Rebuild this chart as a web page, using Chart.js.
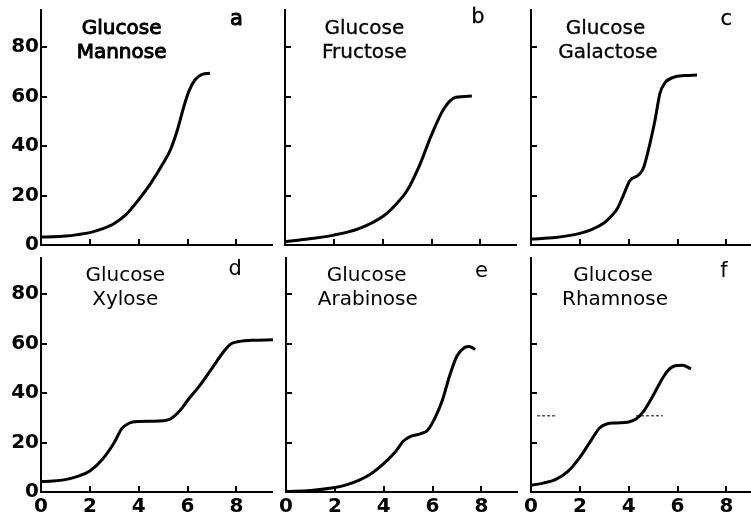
<!DOCTYPE html>
<html>
<head>
<meta charset="utf-8">
<script src="https://cdn.jsdelivr.net/npm/chart.js@4/dist/chart.umd.min.js"></script>
<style>
  html, body { margin: 0; padding: 0; background: #fff; overflow: hidden; width: 751px; height: 521px; }
  canvas { position: absolute; }
</style>
</head>
<body>
<canvas id="pa"></canvas>
<canvas id="pb"></canvas>
<canvas id="pc"></canvas>
<canvas id="pd"></canvas>
<canvas id="pe"></canvas>
<canvas id="pf"></canvas>
<script>
const xTicks = [0, 2, 4, 6, 8];
const yTicks = [0, 20, 40, 60, 80];

// a: glucose + mannose
const mannoseX = [0, 0.5, 1, 1.5, 2, 2.5, 3, 3.5, 4, 4.5, 5, 5.3, 5.6, 5.85, 6.05, 6.3, 6.6, 6.92];
const mannoseY = [3.2, 3.3, 3.6, 4.2, 5, 6.5, 8.7, 12.5, 18.3, 25, 33, 38.5, 47, 56, 62, 66.7, 69, 69.4];
// b: glucose + fructose
const fructoseX = [0, 1, 2, 3, 4, 4.5, 5, 5.5, 6, 6.5, 7, 7.65];
const fructoseY = [1.3, 2.5, 4, 6.5, 11.5, 16, 22, 32, 44.5, 55, 59.7, 60.2];
// c: glucose + galactose
const galactoseX = [0, 1, 2, 2.5, 3, 3.3, 3.55, 3.8, 4.05, 4.4, 4.6, 4.87, 5.08, 5.28, 5.49, 5.83, 6.3, 6.8];
const galactoseY = [2.4, 3, 4.7, 6.3, 9, 11.8, 15, 20.5, 26, 28.3, 31, 41, 50.5, 61.3, 65.6, 67.8, 68.5, 68.7];
// d: glucose + xylose
const xyloseX = [0, 0.5, 1, 1.5, 2, 2.5, 3, 3.3, 3.6, 4, 4.5, 5, 5.3, 5.7, 6, 6.5, 7, 7.5, 7.8, 8.2, 8.6, 9.5];
const xyloseY = [4.2, 4.4, 5, 6.3, 8.5, 13, 20, 25.5, 27.8, 28.5, 28.6, 28.8, 29.5, 33, 37, 43, 50, 57, 60, 61, 61.3, 61.5];
// e: glucose + arabinose
const arabinoseX = [0, 1, 2, 2.5, 3, 3.5, 4, 4.5, 4.8, 5.1, 5.5, 5.8, 6.1, 6.4, 6.7, 7, 7.3, 7.5, 7.75];
const arabinoseY = [0.2, 0.6, 1.8, 3, 4.8, 7.5, 11.5, 16.5, 20.5, 22.5, 23.5, 25, 30, 37, 47, 55, 58.3, 58.8, 57.6];
// f: glucose + rhamnose
const rhamnoseX = [0, 0.5, 1, 1.5, 2, 2.5, 2.8, 3.1, 3.5, 4, 4.3, 4.6, 5, 5.3, 5.6, 5.9, 6.2, 6.55];
const rhamnoseY = [2.7, 3.6, 5, 8.2, 14, 21.5, 25.8, 27.5, 27.9, 28.3, 29.5, 32.5, 39, 44.5, 49, 51, 51.2, 49.8];
// stray marks on panel f
const markX = [0.25, 1.0, 1.0, 4.3, 5.4];
const markY = [30.8, 30.8, null, 30.8, 30.8];

const toPoints = (xs, ys) => xs.map((x, i) => ({ x: x, y: ys[i] }));

const font = '"DejaVu Sans", sans-serif';

const panelText = {
  id: 'panelText',
  afterDraw(chart, args, opts) {
    const { ctx, scales: { x, y } } = chart;
    ctx.save();
    ctx.fillStyle = '#000';
    ctx.strokeStyle = '#000';
    ctx.lineWidth = opts.heavy;
    ctx.textAlign = 'center';
    ctx.textBaseline = 'middle';
    ctx.font = '20px ' + font;
    opts.lines.forEach((t, i) => {
      const px = x.getPixelForValue(opts.nameX[i]), py = y.getPixelForValue(opts.nameY[i]);
      ctx.fillText(t, px, py);
      if (opts.heavy) ctx.strokeText(t, px, py);
    });
    ctx.font = '21px ' + font;
    const lx = x.getPixelForValue(opts.letterX), ly = y.getPixelForValue(opts.letterY);
    ctx.fillText(opts.letter, lx, ly);
    if (opts.heavy) ctx.strokeText(opts.letter, lx, ly);
    ctx.restore();
  }
};

const panels = [
  { id: 'pa', axisX: 41, top: 0, pad: 10, bottomRow: false, leftCol: true, heavy: 1,
    lines: ['Glucose', 'Mannose'], nameX: [3.3, 3.3], letter: 'a', letterX: 8.0, letterY: 91,
    curves: [toPoints(mannoseX, mannoseY)] },
  { id: 'pb', axisX: 285, top: 0, pad: 10, bottomRow: false, leftCol: false, heavy: 0.3,
    lines: ['Glucose', 'Fructose'], nameX: [3.25, 3.25], letter: 'b', letterX: 7.9, letterY: 92,
    curves: [toPoints(fructoseX, fructoseY)] },
  { id: 'pc', axisX: 531, top: 0, pad: 10, bottomRow: false, leftCol: false, heavy: 0.3,
    lines: ['Glucose', 'Galactose'], nameX: [3.05, 3.15], letter: 'c', letterX: 8.0, letterY: 91,
    curves: [toPoints(galactoseX, galactoseY)] },
  { id: 'pd', axisX: 41, top: 257, pad: 0, bottomRow: true, leftCol: true, heavy: 0,
    lines: ['Glucose', 'Xylose'], nameX: [3.45, 3.45], letter: 'd', letterX: 7.95, letterY: 90,
    curves: [toPoints(xyloseX, xyloseY)] },
  { id: 'pe', axisX: 286, top: 257, pad: 0, bottomRow: true, leftCol: false, heavy: 0,
    lines: ['Glucose', 'Arabinose'], nameX: [3.3, 3.35], letter: 'e', letterX: 8.0, letterY: 89,
    curves: [toPoints(arabinoseX, arabinoseY)] },
  { id: 'pf', axisX: 531, top: 257, pad: 0, bottomRow: true, leftCol: false, heavy: 0,
    lines: ['Glucose', 'Rhamnose'], nameX: [3.36, 3.44], letter: 'f', letterX: 7.9, letterY: 89,
    curves: [toPoints(rhamnoseX, rhamnoseY)], marks: toPoints(markX, markY) }
];

const areaW = 232, areaH = 235;

const noPad = s => { s.paddingTop = 0; s.paddingBottom = 0; s.paddingLeft = 0; s.paddingRight = 0; };

panels.forEach(p => {
  const yw = p.leftCol ? 41 : 10;
  const xh = p.bottomRow ? 29 : 6;
  const cv = document.getElementById(p.id);
  cv.width = yw + areaW;
  cv.height = p.pad + areaH + xh;
  cv.style.left = (p.axisX - yw) + 'px';
  cv.style.top = p.top + 'px';

  const datasets = p.curves.map(c => ({
    data: c,
    borderColor: '#000',
    borderWidth: 3,
    pointRadius: 0,
    fill: false,
    cubicInterpolationMode: 'monotone'
  }));
  if (p.marks) {
    datasets.push({
      data: p.marks,
      borderColor: '#555',
      borderWidth: 1.5,
      borderDash: [3, 2],
      pointRadius: 0,
      spanGaps: false
    });
  }

  new Chart(cv.getContext('2d'), {
    type: 'line',
    data: { datasets: datasets },
    options: {
      responsive: false,
      animation: false,
      events: [],
      layout: { autoPadding: false, padding: { top: p.pad, left: 0, right: 0, bottom: 0 } },
      plugins: {
        legend: { display: false },
        tooltip: { enabled: false },
        panelText: {
          lines: p.lines, nameX: p.nameX, nameY: [87.5, 77.5], heavy: p.heavy,
          letter: p.letter, letterX: p.letterX, letterY: p.letterY
        }
      },
      scales: {
        x: {
          type: 'linear',
          min: 0,
          max: 9.5,
          afterBuildTicks: s => { s.ticks = xTicks.map(v => ({ value: v })); },
          afterFit: s => { s.height = xh; noPad(s); },
          border: { display: true, color: '#000', width: 2 },
          grid: { drawOnChartArea: false, drawTicks: true, tickLength: -6, color: '#000', lineWidth: 2 },
          ticks: { display: p.bottomRow, padding: 9, color: '#000', font: { family: font, size: 20, weight: 'bold' } }
        },
        y: {
          type: 'linear',
          min: 0,
          max: 95,
          afterBuildTicks: s => { s.ticks = yTicks.map(v => ({ value: v })); },
          afterFit: s => { s.width = yw; noPad(s); },
          border: { display: true, color: '#000', width: 2 },
          grid: { drawOnChartArea: false, drawTicks: true, tickLength: -6, color: '#000', lineWidth: 2 },
          ticks: { display: p.leftCol, padding: 8, color: '#000', font: { family: font, size: 20, weight: 'bold' } }
        }
      }
    },
    plugins: [panelText]
  });
});
</script>
</body>
</html>
